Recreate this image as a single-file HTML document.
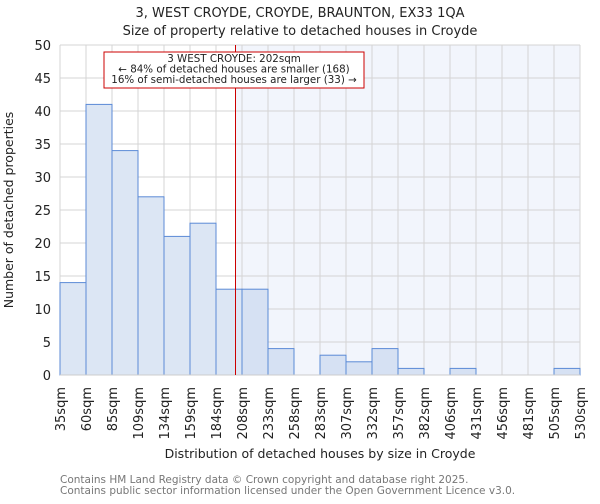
<!DOCTYPE html>
<html><head><meta charset="utf-8"><style>
body{margin:0;background:#fff;font-family:"DejaVu Sans","Liberation Sans",sans-serif}
svg text{font-family:"DejaVu Sans","Liberation Sans",sans-serif}
</style></head><body>
<svg id="c" width="600" height="500" xmlns="http://www.w3.org/2000/svg">
<text x="300" y="17" font-size="13" text-anchor="middle" fill="#222">3, WEST CROYDE, CROYDE, BRAUNTON, EX33 1QA</text>
<text x="300" y="35" font-size="13" text-anchor="middle" fill="#222">Size of property relative to detached houses in Croyde</text>
<g id="plot"></g>
<text transform="translate(13,210) rotate(-90)" font-size="12.5" text-anchor="middle" fill="#222">Number of detached properties</text>
<text x="320" y="458" font-size="12.5" text-anchor="middle" fill="#222">Distribution of detached houses by size in Croyde</text>
<text x="60" y="483" font-size="10.5" fill="#777">Contains HM Land Registry data © Crown copyright and database right 2025.</text>
<text x="60" y="494" font-size="10.5" fill="#777">Contains public sector information licensed under the Open Government Licence v3.0.</text>
</svg>
<script>
const categories=["35sqm","60sqm","85sqm","109sqm","134sqm","159sqm","184sqm","208sqm","233sqm","258sqm","283sqm","307sqm","332sqm","357sqm","382sqm","406sqm","431sqm","456sqm","481sqm","505sqm","530sqm"];
const counts=[14,41,34,27,21,23,13,13,4,0,3,2,4,1,0,1,0,0,0,1];
const yTicks=[0,5,10,15,20,25,30,35,40,45,50];
const binEdges=[35,60,85,109,134,159,184,208,233,258,283,307,332,357,382,406,431,456,481,505,530];
const markerValue=202;
const L=60,R=580,T=45,B=375,yMax=50;
const NS="http://www.w3.org/2000/svg";
const g=document.getElementById('plot');
const n=counts.length,bw=(R-L)/n;
const xi=i=>L+i*bw;
const y=v=>B-(v/yMax)*(B-T);
function xv(v){for(let i=0;i<binEdges.length-1;i++){if(v>=binEdges[i]&&v<=binEdges[i+1])return xi(i)+(v-binEdges[i])/(binEdges[i+1]-binEdges[i])*bw;}return R;}
function mk(t,a){const e=document.createElementNS(NS,t);for(const k in a)e.setAttribute(k,a[k]);g.appendChild(e);return e;}
const mx=xv(markerValue);
let e=mk('rect',{x:mx,y:T,width:R-mx,height:B-T,fill:'#f2f5fc'});


yTicks.forEach(t=>{let l=mk('line',{x1:L,x2:R,y1:y(t),y2:y(t),stroke:'#d4d4d4','stroke-width':1});


let tx=mk('text',{x:L-9,y:y(t)+5,'font-size':13,'text-anchor':'end',fill:'#222'});tx.textContent=t;

});
categories.forEach((c,i)=>{let l=mk('line',{x1:xi(i),x2:xi(i),y1:T,y2:B,stroke:'#d4d4d4','stroke-width':1});


let tx=mk('text',{transform:`translate(${xi(i)+5},${B+12}) rotate(-90)`,'font-size':13,'text-anchor':'end',fill:'#222'});tx.textContent=c;

});
counts.forEach((v,i)=>{if(v<=0)return;let r=mk('rect',{x:xi(i),y:y(v),width:bw,height:B-y(v),fill:xi(i)>=mx?'#d6e1f3':'#dce6f4',stroke:'#5b8ad6','stroke-width':1});

});
let ax=mk('line',{x1:L,x2:R,y1:B,y2:B,stroke:'#ccc'});


let ml=mk('line',{x1:mx,x2:mx,y1:T,y2:B,stroke:'#c00','stroke-width':1});


let box=mk('rect',{x:104,y:52,width:260,height:36,fill:'#fff',stroke:'#c00','stroke-width':1});


["3 WEST CROYDE: 202sqm","← 84% of detached houses are smaller (168)","16% of semi-detached houses are larger (33) →"].forEach((s,k)=>{let t=mk('text',{x:234,y:62+k*10.5,'font-size':10.3,'text-anchor':'middle',fill:'#222'});t.textContent=s;

});
</script>
</body></html>
